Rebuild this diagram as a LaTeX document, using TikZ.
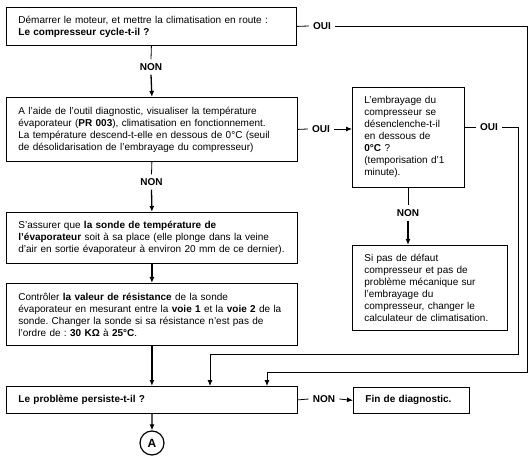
\documentclass[tikz,border=0pt]{standalone}
\usepackage{fontspec}
\setmainfont{Liberation Sans}
\usetikzlibrary{arrows.meta}
\frenchspacing

\begin{document}
\begin{tikzpicture}[x=1pt, y=-1pt, font=\fontsize{10}{12}\selectfont,
				bx/.style={draw, line width=0.8pt, anchor=north west, align=left,
				inner xsep=12pt, inner ysep=0pt},
				lb/.style={font=\fontsize{10}{12}\selectfont\bfseries, inner sep=4pt},
				ar/.style={line width=0.8pt, -{Latex[length=6pt,width=5pt]}},
				arv/.style={ar, line width=1.3pt}, ln/.style={line width=0.8pt}]
				\useasboundingbox (0,0) rectangle (531,468);

				\node[bx, text width=266pt, minimum height=38pt] (b1) at (6,7)
				{Démarrer le moteur, et mettre la climatisation en route :\\
				\textbf{Le compresseur cycle-t-il ?}};
				\node[bx, text width=267pt, minimum height=64pt] (b2) at (6,97)
				{A l'aide de l'outil diagnostic, visualiser la température\\
				évaporateur (\textbf{PR 003}), climatisation en fonctionnement.\\
				La température descend-t-elle en dessous de 0°C (seuil\\
				de désolidarisation de l'embrayage du compresseur)};
				\node[bx, text width=88pt, minimum height=100pt]
				(b3) at (352,87) {L'embrayage du\\ compresseur se\\
				désenclenche-t-il\\ en dessous de\\ \textbf{0°C} ?\\
				(temporisation d'1\\ minute).};
				\node[bx, text width=131pt, minimum height=85pt] (b4) at (352,245)
				{Si pas de défaut\\ compresseur et pas de\\ problème mécanique sur\\
				l'embrayage du\\ compresseur, changer le\\
				calculateur de climatisation.};
				\node[bx, text width=267pt, minimum height=51pt] (b5) at (6,212)
				{S'assurer que \textbf{la sonde de température de}\\
				\textbf{l'évaporateur} soit à sa place (elle plonge dans la veine\\
				\mbox{d'air en sortie évaporateur à environ 20 mm de ce dernier).}};
				\node[bx, text width=267pt, minimum height=62pt] (b6) at (6,283)
				{Contrôler \textbf{la valeur de résistance} de la sonde\\
				évaporateur en mesurant entre la \textbf{voie 1} et la \textbf{voie 2} de la\\
				sonde. Changer la sonde si sa résistance n'est pas de\\
				l'ordre de : \textbf{30 KΩ} à \textbf{25°C}.};
				\node[bx, text width=267pt, minimum height=27pt] (b7) at (6,386)
				{\textbf{Le problème persiste-t-il ?}};
				\node[bx, text width=92pt, minimum height=26pt] (b8) at (353,387)
				{\textbf{Fin de diagnostic.}};
				\node[draw, circle, line width=1.2pt, minimum size=24pt, inner sep=0pt,
				font=\fontsize{12}{12}\selectfont\bfseries] (A) at (152,443) {A};

				\node[lb] (n1) at (151,67) {NON}; \node[lb] (n2) at (151.5,182) {NON};
				\node[lb] (n3) at (408,213) {NON}; \node[lb] (n4) at (324,399) {NON};
				\node[lb] (o1) at (322,26) {OUI}; \node[lb] (o2) at (321,129) {OUI};
				\node[lb] (o3) at (489,127) {OUI};

				\coordinate (k1) at (527,372); \coordinate (j1) at (267,386);
				\coordinate (k2) at (518,354); \coordinate (j2) at (210,386);

				\draw[ln] (b1.south) -- (n1.north); \draw[arv] (n1.south) -- (b2.north);
				\draw[ln] (b2.south) -- (n2.north); \draw[arv] (n2.south) -- (b5.north);
				\draw[arv] (b5.south) -- (b6.north); \draw[arv] (b6.south) -- (b7.north);
				\draw[arv] (b7.south) -- (A.north);
				\draw[ln] (n3.north |- b3.south) -- (n3.north);
				\draw[arv] (n3.south) -- (n3.south |- b4.north);

				\draw[ln] (b1.east) -- (o1.west); \draw[ar] (o1.east) -| (k1) -| (j1);
				\draw[ln] (b2.east) -- (o2.west); \draw[ar] (o2.east) -- (o2.east -| b3.west);
				\draw[ln] (o3.west -| b3.east) -- (o3.west); \draw[ar] (o3.east) -| (k2) -| (j2);
				\draw[ln] (b7.east) -- (n4.west); \draw[ar] (n4.east) -- (b8.west);
\end{tikzpicture}
\end{document}
